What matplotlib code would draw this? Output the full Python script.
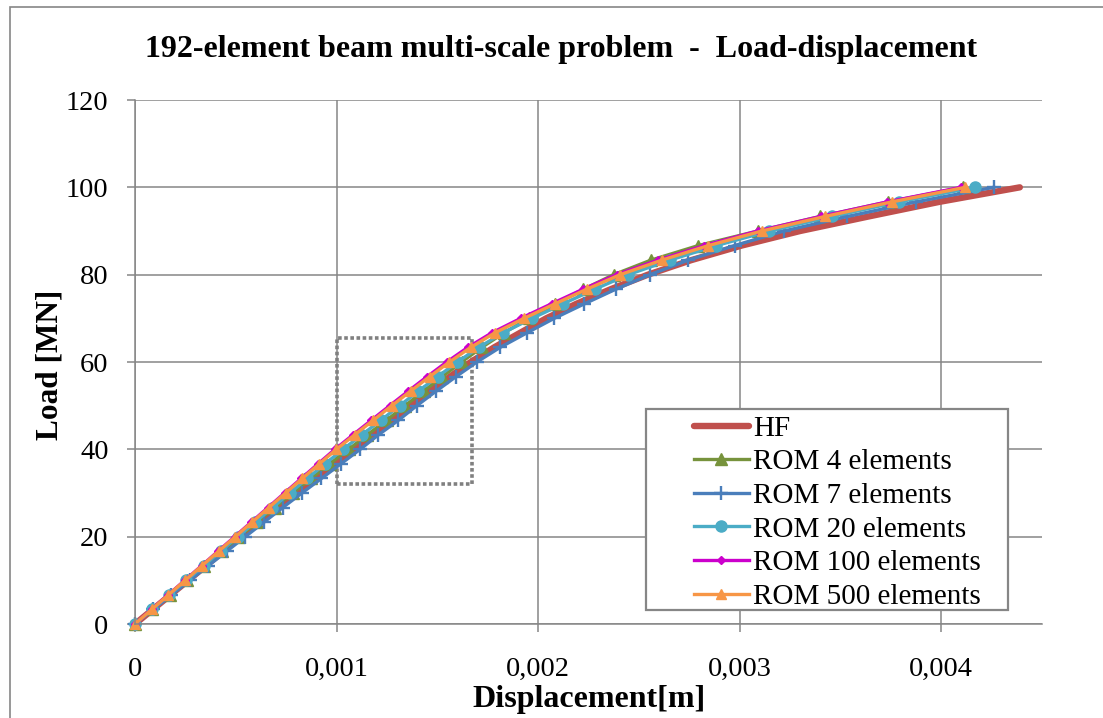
import matplotlib
matplotlib.use("Agg")
import matplotlib.pyplot as plt
from matplotlib.patches import Rectangle
import numpy as np

# Applied load levels [MN]
load = [0.0, 3.333, 6.667, 10.0, 13.333, 16.667, 20.0, 23.333, 26.667, 30.0,
        33.333, 36.667, 40.0, 43.333, 46.667, 50.0, 53.333, 56.667, 60.0, 63.333,
        66.667, 70.0, 73.333, 76.667, 80.0, 83.333, 86.667, 90.0, 93.333, 96.667, 100.0]

# Tip displacement [mm] for each model at the load levels above
disp_hf = [0.000, 0.088, 0.176, 0.264, 0.351, 0.438, 0.525, 0.615, 0.706, 0.798,
           0.893, 0.990, 1.087, 1.178, 1.277, 1.368, 1.464, 1.563, 1.666, 1.781,
           1.910, 2.040, 2.190, 2.360, 2.545, 2.760, 3.010, 3.300, 3.640, 3.990, 4.390]
disp_rom4 = [0.000, 0.086, 0.172, 0.258, 0.344, 0.430, 0.518, 0.606, 0.694, 0.783,
             0.874, 0.966, 1.060, 1.153, 1.248, 1.340, 1.432, 1.525, 1.620, 1.720,
             1.830, 1.955, 2.085, 2.225, 2.375, 2.560, 2.795, 3.090, 3.400, 3.735, 4.110]
disp_rom7 = [0.000, 0.090, 0.181, 0.272, 0.363, 0.455, 0.547, 0.640, 0.733, 0.828,
             0.925, 1.021, 1.117, 1.208, 1.307, 1.398, 1.494, 1.593, 1.696, 1.811,
             1.944, 2.080, 2.230, 2.385, 2.555, 2.745, 2.975, 3.220, 3.535, 3.875, 4.260]
disp_rom20 = [0.000, 0.085, 0.170, 0.255, 0.340, 0.425, 0.510, 0.596, 0.682, 0.768,
              0.855, 0.943, 1.032, 1.126, 1.220, 1.313, 1.406, 1.502, 1.600, 1.705,
              1.825, 1.970, 2.124, 2.281, 2.447, 2.654, 2.885, 3.148, 3.460, 3.790, 4.168]
disp_rom100 = [0.000, 0.082, 0.165, 0.247, 0.330, 0.412, 0.495, 0.577, 0.660, 0.742,
               0.825, 0.908, 0.992, 1.082, 1.173, 1.264, 1.356, 1.450, 1.547, 1.651,
               1.770, 1.914, 2.067, 2.223, 2.389, 2.595, 2.825, 3.090, 3.402, 3.733, 4.098]
disp_rom500 = [0.000, 0.083, 0.166, 0.249, 0.332, 0.415, 0.498, 0.581, 0.664, 0.747,
               0.830, 0.914, 0.999, 1.090, 1.182, 1.274, 1.367, 1.462, 1.560, 1.665,
               1.785, 1.930, 2.084, 2.241, 2.407, 2.614, 2.845, 3.110, 3.424, 3.755, 4.119]

x_ticks = [0.0, 0.001, 0.002, 0.003, 0.004]
x_tick_labels = ["0", "0,001", "0,002", "0,003", "0,004"]
y_ticks = [0, 20, 40, 60, 80, 100, 120]
y_tick_labels = ["0", "20", "40", "60", "80", "100", "120"]

# zoom window drawn as dotted box (displacement [m], load [MN])
box_x = [0.001, 0.00167]
box_y = [32.0, 65.6]

plt.rcParams["font.family"] = ["Liberation Serif", "DejaVu Serif"]

W, H = 1103, 718
fig = plt.figure(figsize=(W / 100, H / 100), dpi=100)
fig.patch.set_facecolor("white")

def fx(px):
    return px / W

def fy(py):
    return 1 - py / H

ax = fig.add_axes([fx(135), fy(624), fx(1042) - fx(135), fy(100) - fy(624)])

grid_col = "#868686"
ax.set_xlim(0, 0.0045)
ax.set_ylim(0, 120)
ax.set_xticks(x_ticks)
ax.set_xticklabels(x_tick_labels)
ax.set_yticks(y_ticks)
ax.set_yticklabels(y_tick_labels)
ax.grid(True, color=grid_col, linewidth=1.1)
ax.set_axisbelow(True)
for side in ("top", "right"):
    ax.spines[side].set_visible(False)
for side in ("left", "bottom"):
    ax.spines[side].set_color(grid_col)
    ax.spines[side].set_linewidth(1.1)
ax.tick_params(axis="both", direction="out", length=6, width=1.1, color=grid_col,
               labelsize=20.5, labelcolor="black")
ax.tick_params(axis="y", pad=13)
ax.tick_params(axis="x", pad=17.5)

def mm(values):
    return np.asarray(values) / 1000.0

series = [
    ("HF", disp_hf, dict(color="#C0504D", lw=4.6, marker=None, solid_capstyle="round")),
    ("ROM 4 elements", disp_rom4, dict(color="#77933C", lw=2.4, marker="^", ms=9)),
    ("ROM 7 elements", disp_rom7, dict(color="#4A7EBB", lw=2.4, marker="+", ms=10.5, mew=1.7)),
    ("ROM 20 elements", disp_rom20, dict(color="#4BACC6", lw=2.4, marker="o", ms=8)),
    ("ROM 100 elements", disp_rom100, dict(color="#CC00CC", lw=2.4, marker="D", ms=4.2)),
    ("ROM 500 elements", disp_rom500, dict(color="#F79646", lw=2.4, marker="^", ms=7)),
]
handles = []
for name, d, style in series:
    h, = ax.plot(mm(d), load, label=name, clip_on=False, **style)
    handles.append(h)

ax.plot([box_x[0], box_x[1], box_x[1], box_x[0], box_x[0]],
        [box_y[0], box_y[0], box_y[1], box_y[1], box_y[0]],
        color="#808080", lw=2.6, linestyle=(0, (1, 0.7)), zorder=1)

# legend frame and entries
fig.patches.append(Rectangle((fx(646), fy(610)), fx(1008) - fx(646), fy(409) - fy(610),
                             transform=fig.transFigure, facecolor="white",
                             edgecolor="#868686", linewidth=1.6, zorder=5))
leg = fig.legend(handles=handles, loc="upper left",
                 bbox_to_anchor=(fx(690), fy(412)), bbox_transform=fig.transFigure,
                 frameon=False, fontsize=21, handlelength=1.9, handletextpad=0.15,
                 labelspacing=0.245, borderpad=0.12, borderaxespad=0)
leg.set_zorder(6)

fig.text(fx(561), fy(50), "192-element beam multi-scale problem  -  Load-displacement",
         ha="center", va="center", fontsize=23, fontweight="bold")
fig.text(fx(50), fy(365), "Load [MN]", ha="center", va="center", rotation=90,
         fontsize=22.5, fontweight="bold")
fig.text(fx(589), fy(700), "Displacement[m]", ha="center", va="center",
         fontsize=23, fontweight="bold")

# outer chart border
fig.patches.append(Rectangle((fx(10), fy(730)), fx(1120) - fx(10), fy(7) - fy(730),
                             transform=fig.transFigure, facecolor="none",
                             edgecolor="#868686", linewidth=1.2, zorder=0))

fig.savefig("out.png", dpi=100)
